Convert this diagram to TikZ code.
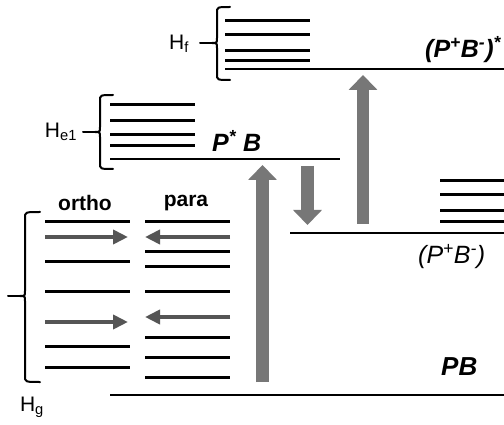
\documentclass[tikz,border=0pt]{standalone}
\usepackage{fontspec}
\setmainfont{Liberation Sans}
\usetikzlibrary{arrows.meta}
\definecolor{arrgray}{HTML}{777777}
\definecolor{smallgray}{HTML}{555555}
\begin{document}
\begin{tikzpicture}[x=1pt,y=-1pt,
  lvl/.style={line width=3pt},
  longlvl/.style={line width=2.8pt},
  bracepath/.style={line width=2pt, line cap=round},
  bigarr/.style={line width=12.5pt, draw=arrgray, -{Triangle[width=28pt,length=15pt]}},
  smallarr/.style={line width=4pt, draw=smallgray, -{Triangle[width=14pt,length=15pt]}},
  hlabel/.style={font=\fontsize{21}{23}\selectfont, inner sep=0pt},
  statelabel/.style={font=\fontsize{25}{27}\selectfont\bfseries\itshape, inner sep=0pt, anchor=west},
  spinlabel/.style={font=\fontsize{21}{23}\selectfont\bfseries, inner sep=0pt}]
\useasboundingbox (0,0) rectangle (504,425);
\clip (0,0) rectangle (504,425);
\fill[white] (0,0) rectangle (504,425);

% (P+B-)* manifold
\foreach \y in {21,35,51,61} \draw[lvl] (225,\y) -- (310,\y);
\draw[longlvl] (225,69) -- (504,69);
% P*B manifold
\foreach \y in {105,121,135,146} \draw[lvl] (110,\y) -- (195,\y);
\draw[longlvl] (110,159) -- (340,159);
% ortho levels
\foreach \y in {222,262,291,346,367} \draw[lvl] (45,\y) -- (130,\y);
% para levels
\foreach \y in {222,252,267,291,337,357,377} \draw[lvl] (145,\y) -- (230,\y);
% (P+B-) manifold
\foreach \y in {181,195,211,222} \draw[lvl] (440,\y) -- (504,\y);
\draw[longlvl] (290,233) -- (504,233);
% PB ground level
\draw[longlvl] (110,395) -- (504,395);

% braces
\draw[bracepath] (230,7) .. controls (217,7) .. (217,13) -- (217,38) .. controls (217,43) .. (212,43) .. controls (217,43) .. (217,48) -- (217,74) .. controls (217,80) .. (230,80);
\draw[bracepath] (212,43) -- (200,43);
\draw[bracepath] (113,95) .. controls (100,95) .. (100,101) -- (100,127) .. controls (100,132) .. (95,132) .. controls (100,132) .. (100,137) -- (100,163) .. controls (100,169) .. (113,169);
\draw[bracepath] (95,132) -- (83,132);
\draw[bracepath] (40,212) .. controls (25,212) .. (25,218) -- (25,291) .. controls (25,296) .. (20,296) .. controls (25,296) .. (25,301) -- (25,376) .. controls (25,382) .. (40,382);
\draw[bracepath] (20,296) -- (8,296);

% arrow end points
\coordinate (a1s) at (262.5,382);
\coordinate (a1e) at (262.5,165);
\coordinate (a2s) at (307.5,166);
\coordinate (a2e) at (307.5,225);
\coordinate (a3s) at (363,224);
\coordinate (a3e) at (363,75);
\draw[bigarr] (a1s) -- (a1e);
\draw[bigarr] (a2s) -- (a2e);
\draw[bigarr] (a3s) -- (a3e);

\coordinate (o1s) at (45,237);
\coordinate (o1e) at (128,237);
\coordinate (o2s) at (45,322);
\coordinate (o2e) at (128,322);
\coordinate (p1s) at (230,237);
\coordinate (p1e) at (145,237);
\coordinate (p2s) at (230,317);
\coordinate (p2e) at (145,317);
\draw[smallarr] (o1s) -- (o1e);
\draw[smallarr] (o2s) -- (o2e);
\draw[smallarr] (p1s) -- (p1e);
\draw[smallarr] (p2s) -- (p2e);

% labels
\node[hlabel] (hf) at (179,44) {H\textsubscript{f}};
\node[hlabel] (he1) at (61,132) {H\textsubscript{e1}};
\node[hlabel] (hg) at (32,407) {H\textsubscript{g}};
\node[spinlabel] (ortho) at (85,203) {ortho};
\node[spinlabel] (para) at (186,203) {para};
\node[statelabel] (pbstar) at (425,50) {(P\textsuperscript{+}B\textsuperscript{-})\textsuperscript{*}};
\node[statelabel] (pstarb) at (212,141) {P\textsuperscript{*} B};
\node[statelabel, font=\fontsize{25}{27}\selectfont\itshape] (pb) at (418,257) {(P\textsuperscript{+}B\textsuperscript{-})};
\node[statelabel, font=\fontsize{26}{28}\selectfont\bfseries\itshape] (ground) at (441,367) {PB};
\end{tikzpicture}
\end{document}
